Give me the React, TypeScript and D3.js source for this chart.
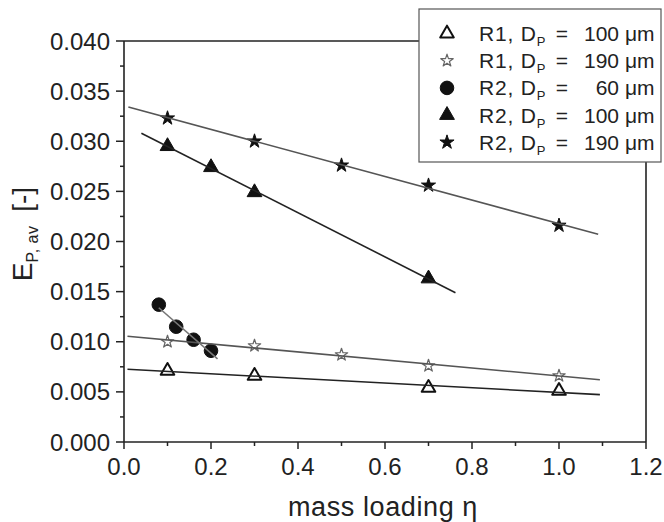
import React from 'react';
import * as d3 from 'd3';

// ---- data ----
const xTickValues = [0, 0.2, 0.4, 0.6, 0.8, 1.0, 1.2];
const xTickLabels = ['0.0', '0.2', '0.4', '0.6', '0.8', '1.0', '1.2'];
const xMinorTicks = [0.1, 0.3, 0.5, 0.7, 0.9, 1.1];
const yTickValues = [0, 0.005, 0.01, 0.015, 0.02, 0.025, 0.03, 0.035, 0.04];
const yTickLabels = ['0.000', '0.005', '0.010', '0.015', '0.020', '0.025', '0.030', '0.035', '0.040'];
const yMinorTicks = [0.0025, 0.0075, 0.0125, 0.0175, 0.0225, 0.0275, 0.0325, 0.0375];

const r1d100X = [0.1, 0.3, 0.7, 1.0];
const r1d100Y = [0.0071, 0.0066, 0.0054, 0.0051];
const r1d190X = [0.1, 0.3, 0.5, 0.7, 1.0];
const r1d190Y = [0.01, 0.0096, 0.0087, 0.0076, 0.0066];
const r2d60X = [0.08, 0.12, 0.16, 0.2];
const r2d60Y = [0.0137, 0.0115, 0.0102, 0.0091];
const r2d100X = [0.1, 0.2, 0.3, 0.7];
const r2d100Y = [0.0295, 0.0274, 0.0249, 0.0163];
const r2d190X = [0.1, 0.3, 0.5, 0.7, 1.0];
const r2d190Y = [0.0323, 0.03, 0.0276, 0.0256, 0.0216];

const seriesReactor = ['R1', 'R1', 'R2', 'R2', 'R2'];
const seriesDiameter = ['100', '190', '60', '100', '190'];
const fitStart = [0.008, 0.008, 0.08, 0.04, 0.01];
const fitEnd = [1.094, 1.094, 0.215, 0.762, 1.09];

const FONT = "'Liberation Sans', Arial, Helvetica, sans-serif";

function fit(xs: number[], ys: number[]) {
  const mx = d3.mean(xs)!;
  const my = d3.mean(ys)!;
  let sxy = 0, sxx = 0;
  xs.forEach((x, i) => { sxy += (x - mx) * (ys[i] - my); sxx += (x - mx) * (x - mx); });
  const b = sxy / sxx;
  return { a: my - b * mx, b };
}

type Style = { type: d3.SymbolType; size: number; fill: string; stroke: string; sw: number; line: string };
const styles: Style[] = [
  { type: d3.symbolTriangle, size: 80, fill: '#fff', stroke: '#111', sw: 2, line: '#222' },
  { type: d3.symbolStar, size: 48, fill: '#fff', stroke: '#666', sw: 1.2, line: '#555' },
  { type: d3.symbolCircle, size: 145, fill: '#111', stroke: '#111', sw: 1, line: '#777' },
  { type: d3.symbolTriangle, size: 95, fill: '#111', stroke: '#111', sw: 1, line: '#222' },
  { type: d3.symbolStar, size: 62, fill: '#111', stroke: '#111', sw: 1, line: '#555' },
];

export default function App() {
  const left = 124, right = 646, top = 41, bottom = 442;
  const x = d3.scaleLinear().domain([0, 1.2]).range([left, right]);
  const y = d3.scaleLinear().domain([0, 0.04]).range([bottom, top]);

  const series = [
    { xs: r1d100X, ys: r1d100Y },
    { xs: r1d190X, ys: r1d190Y },
    { xs: r2d60X, ys: r2d60Y },
    { xs: r2d100X, ys: r2d100Y },
    { xs: r2d190X, ys: r2d190Y },
  ];
  const line = d3.line<[number, number]>().x(d => x(d[0])).y(d => y(d[1]));
  const sym = (s: Style) => d3.symbol().type(s.type).size(s.size)() || '';

  const legX = 419, legY = 9, legW = 242, legH = 153;
  const rowY = (i: number) => 33.5 + i * 27.2;

  return (
    <svg width={664} height={522} style={{ position: 'absolute', left: 0, top: 0, background: '#fff' }} fontFamily={FONT}>
      <rect x={0} y={0} width={664} height={522} fill="#fff" />
      {/* frame */}
      <g stroke="#222" strokeWidth={1.6} fill="none">
        <line x1={left} y1={bottom} x2={right} y2={bottom} />
        <line x1={left} y1={bottom} x2={left} y2={top} />
        <line x1={left} y1={top} x2={right} y2={top} />
        <line x1={right} y1={top} x2={right} y2={bottom} />
      </g>
      {/* ticks */}
      <g stroke="#222" strokeWidth={1.5}>
        {xTickValues.map(v => <line key={'xt' + v} x1={x(v)} x2={x(v)} y1={bottom} y2={bottom + 7} />)}
        {xMinorTicks.map(v => <line key={'xm' + v} x1={x(v)} x2={x(v)} y1={bottom} y2={bottom + 4} />)}
        {yTickValues.map(v => <line key={'yt' + v} x1={left - 8} x2={left} y1={y(v)} y2={y(v)} />)}
        {yMinorTicks.map(v => <line key={'ym' + v} x1={left - 4} x2={left} y1={y(v)} y2={y(v)} />)}
      </g>
      <g fontSize={24} fill="#222">
        {xTickValues.map((v, i) => (
          <text key={'xl' + v} x={x(v)} y={475} textAnchor="middle">{xTickLabels[i]}</text>
        ))}
        {yTickValues.map((v, i) => (
          <text key={'yl' + v} x={110} y={y(v) + 8.5} textAnchor="end">{yTickLabels[i]}</text>
        ))}
      </g>
      {/* axis titles */}
      <text x={383} y={516} textAnchor="middle" fontSize={27} letterSpacing={0.6} fill="#222">mass loading η</text>
      <text transform={`translate(32, 234) rotate(-90)`} textAnchor="middle" fontSize={28} fill="#222">
        E<tspan fontSize={16} dy={6} letterSpacing={0.5}>P, av</tspan><tspan dy={-6} dx={6}> [-]</tspan>
      </text>
      {/* markers */}
      {series.map((s, si) => (
        <g key={'m' + si}>
          {s.xs.map((xv, i) => (
            <path key={i} d={sym(styles[si])} transform={`translate(${x(xv)},${y(s.ys[i])})`}
              fill={styles[si].fill} stroke={styles[si].stroke} strokeWidth={styles[si].sw} strokeLinejoin="round" />
          ))}
        </g>
      ))}
      {/* fit lines */}
      {series.map((s, si) => {
        const f = fit(s.xs, s.ys);
        const pts: [number, number][] = [fitStart[si], fitEnd[si]].map(v => [v, f.a + f.b * v] as [number, number]);
        return <path key={'l' + si} d={line(pts) || ''} stroke={styles[si].line} strokeWidth={1.6} fill="none" />;
      })}
      {/* legend */}
      <rect x={legX} y={legY} width={legW} height={legH} fill="#fff" stroke="#555" strokeWidth={1.2} />
      {seriesReactor.map((r, i) => (
        <g key={'lg' + i}>
          <path d={sym(styles[i])} transform={`translate(447,${rowY(i)})`} fill={styles[i].fill}
            stroke={styles[i].stroke} strokeWidth={styles[i].sw} strokeLinejoin="round" />
          <text x={479} y={rowY(i) + 7.5} fontSize={21} letterSpacing={0.8} fill="#222">
            {r}, D<tspan fontSize={13} dy={5}>P</tspan><tspan dy={-5} dx={3}> =</tspan>
          </text>
          <text x={619} y={rowY(i) + 7.5} fontSize={21} fill="#222" textAnchor="end">{seriesDiameter[i]}</text>
          <text x={625} y={rowY(i) + 7.5} fontSize={21} fill="#222">μm</text>
        </g>
      ))}
    </svg>
  );
}
